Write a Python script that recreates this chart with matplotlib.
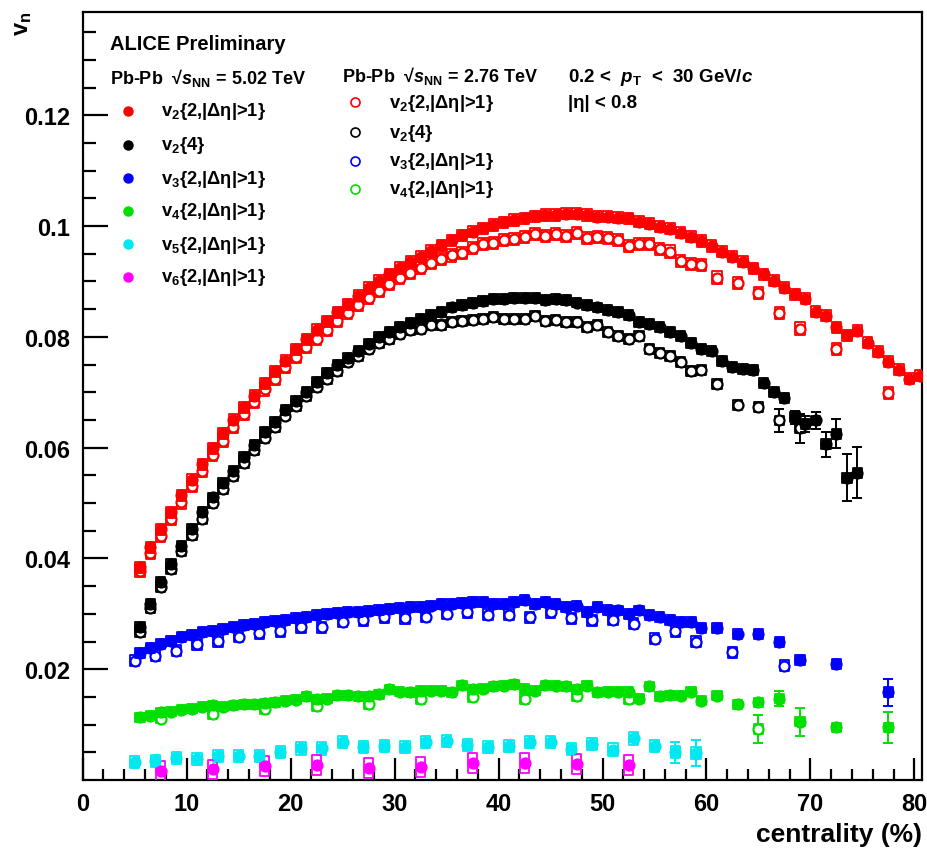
import numpy as np
import matplotlib
matplotlib.use('Agg')
import matplotlib.pyplot as plt
from matplotlib.patches import Rectangle
from matplotlib.collections import PatchCollection
from matplotlib.lines import Line2D

plt.rcParams['font.family'] = ['Liberation Sans', 'DejaVu Sans']
plt.rcParams['font.weight'] = 'bold'
plt.rcParams['mathtext.fontset'] = 'custom'
plt.rcParams['mathtext.rm'] = 'Liberation Sans:bold'
plt.rcParams['mathtext.it'] = 'Liberation Sans:italic:bold'
plt.rcParams['mathtext.bf'] = 'Liberation Sans:bold'

# centrality bin centres (%)
cent_1pc_80 = np.arange(5.5, 81.0, 1.0)      # 5-81 %, 1 % bins
cent_1pc_75 = np.arange(5.5, 75.0, 1.0)      # 5-75 %, 1 % bins
cent_1pc_60 = np.arange(5.5, 60.0, 1.0)      # 5-60 %, 1 % bins
cent_tail_502 = [61.0, 63.0, 65.0, 67.0, 69.0, 72.5, 77.5]
cent_tail_276_v24 = [61.0, 63.0, 65.0, 67.0, 69.0]
cent_2pc = np.arange(5.0, 60.0, 2.0)
cent_5pc = np.arange(7.5, 55.0, 5.0)

# Pb-Pb 5.02 TeV
v22_502 = [0.0384, 0.0420, 0.0453, 0.0483, 0.0514, 0.0542, 0.0570, 0.0599, 0.0626, 0.0650,
           0.0673, 0.0694, 0.0716, 0.0738, 0.0757, 0.0778, 0.0796, 0.0813, 0.0828, 0.0844,
           0.0859, 0.0874, 0.0889, 0.0901, 0.0913, 0.0925, 0.0936, 0.0945, 0.0955, 0.0965,
           0.0974, 0.0983, 0.0990, 0.0996, 0.1002, 0.1007, 0.1011, 0.1014, 0.1018, 0.1020,
           0.1020, 0.1022, 0.1022, 0.1020, 0.1017, 0.1017, 0.1015, 0.1014, 0.1008, 0.1004,
           0.0999, 0.0995, 0.0988, 0.0981, 0.0973, 0.0964, 0.0954, 0.0945, 0.0936, 0.0924,
           0.0913, 0.0901, 0.0889, 0.0877, 0.0869, 0.0845, 0.0838, 0.0817, 0.0803, 0.0811,
           0.0789, 0.0773, 0.0755, 0.0741, 0.0724, 0.0730]
v24_502 = [0.0276, 0.0318, 0.0357, 0.0390, 0.0423, 0.0453, 0.0483, 0.0510, 0.0536, 0.0558,
           0.0584, 0.0605, 0.0628, 0.0647, 0.0668, 0.0685, 0.0701, 0.0718, 0.0735, 0.0750,
           0.0761, 0.0775, 0.0788, 0.0799, 0.0808, 0.0817, 0.0825, 0.0832, 0.0839, 0.0845,
           0.0853, 0.0857, 0.0861, 0.0865, 0.0869, 0.0869, 0.0871, 0.0871, 0.0870, 0.0867,
           0.0868, 0.0867, 0.0862, 0.0857, 0.0853, 0.0849, 0.0845, 0.0839, 0.0826, 0.0823,
           0.0817, 0.0808, 0.0802, 0.0789, 0.0778, 0.0775, 0.0757, 0.0745, 0.0742, 0.0741,
           0.0717, 0.0701, 0.0689, 0.0655, 0.0643, 0.0649, 0.0606, 0.0625, 0.0546, 0.0555]
v32_502 = [0.0230, 0.0238, 0.0245, 0.0251, 0.0258, 0.0262, 0.0267, 0.0269, 0.0273, 0.0277,
           0.0280, 0.0282, 0.0285, 0.0287, 0.0289, 0.0292, 0.0295, 0.0297, 0.0299, 0.0301,
           0.0303, 0.0304, 0.0305, 0.0307, 0.0309, 0.0310, 0.0312, 0.0313, 0.0315, 0.0318,
           0.0318, 0.0319, 0.0321, 0.0321, 0.0318, 0.0318, 0.0321, 0.0325, 0.0318, 0.0321,
           0.0318, 0.0312, 0.0315, 0.0303, 0.0312, 0.0307, 0.0306, 0.0300, 0.0306, 0.0298,
           0.0294, 0.0288, 0.0285, 0.0285, 0.0274,
           0.0274, 0.0264, 0.0264, 0.0249, 0.0217, 0.0209, 0.0158]
v42_502 = [0.0113, 0.0116, 0.0122, 0.0123, 0.0127, 0.0129, 0.0132, 0.0135, 0.0132, 0.0135,
           0.0137, 0.0137, 0.0139, 0.0140, 0.0143, 0.0145, 0.0151, 0.0146, 0.0147, 0.0153,
           0.0153, 0.0151, 0.0151, 0.0155, 0.0164, 0.0159, 0.0158, 0.0161, 0.0161, 0.0161,
           0.0158, 0.0171, 0.0164, 0.0165, 0.0169, 0.0170, 0.0173, 0.0165, 0.0161, 0.0171,
           0.0170, 0.0169, 0.0164, 0.0170, 0.0158, 0.0159, 0.0159, 0.0159, 0.0147, 0.0169,
           0.0151, 0.0153, 0.0152, 0.0159, 0.0143,
           0.0152, 0.0137, 0.0140, 0.0147, 0.0105, 0.0095, 0.0095]
v52_502 = [0.0033, 0.0035, 0.0039, 0.0038, 0.0044, 0.0044, 0.0044, 0.0051, 0.0057, 0.0057,
           0.0068, 0.0059, 0.0061, 0.0059, 0.0068, 0.0071, 0.0063, 0.0059, 0.0062, 0.0068,
           0.0068, 0.0056, 0.0065, 0.0055, 0.0075, 0.0062, 0.0050, 0.0049]
v62_502 = [0.0017, 0.0019, 0.0026, 0.0027, 0.0021, 0.0023, 0.0031, 0.0031, 0.0029, 0.0027]

# Pb-Pb 2.76 TeV
v22_276 = [0.0378, 0.0410, 0.0441, 0.0471, 0.0501, 0.0531, 0.0558, 0.0587, 0.0612, 0.0638,
           0.0661, 0.0682, 0.0705, 0.0724, 0.0745, 0.0763, 0.0781, 0.0797, 0.0813, 0.0829,
           0.0843, 0.0857, 0.0871, 0.0883, 0.0895, 0.0906, 0.0915, 0.0925, 0.0933, 0.0940,
           0.0947, 0.0952, 0.0960, 0.0967, 0.0970, 0.0975, 0.0977, 0.0980, 0.0986, 0.0982,
           0.0986, 0.0982, 0.0987, 0.0978, 0.0980, 0.0978, 0.0975, 0.0964, 0.0967, 0.0967,
           0.0958, 0.0954, 0.0937, 0.0931, 0.0930,
           0.0907, 0.0897, 0.0879, 0.0843, 0.0815, 0.0778, 0.0699]
v24_276 = [0.0267, 0.0310, 0.0348, 0.0381, 0.0414, 0.0442, 0.0471, 0.0500, 0.0525, 0.0549,
           0.0573, 0.0596, 0.0617, 0.0637, 0.0658, 0.0676, 0.0694, 0.0709, 0.0724, 0.0739,
           0.0754, 0.0766, 0.0778, 0.0789, 0.0797, 0.0805, 0.0813, 0.0815, 0.0821, 0.0822,
           0.0826, 0.0829, 0.0831, 0.0833, 0.0835, 0.0833, 0.0833, 0.0833, 0.0838, 0.0829,
           0.0831, 0.0826, 0.0826, 0.0817, 0.0821, 0.0808, 0.0802, 0.0796, 0.0802, 0.0778,
           0.0771, 0.0766, 0.0755, 0.0739, 0.0741,
           0.0715, 0.0677, 0.0673, 0.0649, 0.0635]
cent_v32_276 = [62.5, 67.5]
v32_276 = [0.0215, 0.0224, 0.0233, 0.0245, 0.0251, 0.0259, 0.0265, 0.0269, 0.0276, 0.0276,
           0.0286, 0.0288, 0.0294, 0.0292, 0.0295, 0.0300, 0.0303, 0.0298, 0.0298, 0.0294,
           0.0303, 0.0292, 0.0288, 0.0289, 0.0282, 0.0255, 0.0269, 0.0250,
           0.0231, 0.0206]
cent_v42_276 = [65.0]
v42_276 = [0.0111, 0.0119, 0.0128, 0.0134, 0.0137, 0.0147, 0.0149, 0.0146, 0.0152, 0.0147,
           0.0092]

# statistical error bars that stick out of the markers
stat_v24_502_cent = [68.5, 69.5, 70.5, 71.5, 72.5, 73.5, 74.5]
stat_v24_502 = [0.0012, 0.0015, 0.0016, 0.0023, 0.0026, 0.0042, 0.0046]
stat_v24_276_cent = [67.0, 69.0]
stat_v24_276 = [0.0020, 0.0026]
stat_v32_502_cent = [77.5]
stat_v32_502 = [0.0025]
stat_v42_502_cent = [67.0, 69.0, 77.5]
stat_v42_502 = [0.0014, 0.0025, 0.0028]
stat_v42_276_cent = [65.0]
stat_v42_276 = [0.0025]
stat_v52_502_cent = [57.0, 59.0]
stat_v52_502 = [0.0019, 0.0023]

RED, BLACK, BLUE = '#ff0000', '#000000', '#0000ff'
GREEN, CYAN, MAGENTA = '#00e000', '#00e8f0', '#ff00ff'

W, H = 927, 854
fig = plt.figure(figsize=(W / 100, H / 100), dpi=100)
ax = fig.add_axes([82.7 / W, 1 - 781 / H, (921.7 - 82.7) / W, (781 - 12.7) / H])


def draw_series(cent, vals, color, filled, sys, stat_cent=None, stat=None, z=3):
    cent = np.asarray(cent, dtype=float)
    vals = np.asarray(vals, dtype=float)
    # systematic boxes
    boxes = [Rectangle((c - 0.45, v - sys), 0.9, 2 * sys) for c, v in zip(cent, vals)]
    ax.add_collection(PatchCollection(boxes, facecolor='none', edgecolor=color,
                                      linewidth=1.3, zorder=z))
    if stat_cent:
        idx = [int(np.argmin(np.abs(cent - c))) for c in stat_cent]
        ax.errorbar(cent[idx], vals[idx], yerr=stat, fmt='none', ecolor=color,
                    elinewidth=1.4, capsize=3.5, capthick=1.4, zorder=z)
    ax.plot(cent, vals, ls='none', marker='o', ms=7.2,
            mfc=color if filled else 'white', mec=color, mew=1.6, zorder=z + 0.5)


# 2.76 TeV (open) below, 5.02 TeV (full) on top
draw_series(np.concatenate([cent_1pc_60, cent_tail_502]), v22_276, RED, False, 0.0011)
draw_series(np.concatenate([cent_1pc_60, cent_tail_276_v24]), v24_276, BLACK, False, 0.0009,
            stat_v24_276_cent, stat_v24_276)
draw_series(np.concatenate([cent_2pc, cent_v32_276]), v32_276, BLUE, False, 0.0010)
draw_series(np.concatenate([cent_5pc, cent_v42_276]), v42_276, GREEN, False, 0.0009,
            stat_v42_276_cent, stat_v42_276)

draw_series(cent_1pc_80, v22_502, RED, True, 0.0010, z=5)
draw_series(cent_1pc_75, v24_502, BLACK, True, 0.0009, stat_v24_502_cent, stat_v24_502, z=5)
draw_series(np.concatenate([cent_1pc_60, cent_tail_502]), v32_502, BLUE, True, 0.0009,
            stat_v32_502_cent, stat_v32_502, z=5)
draw_series(np.concatenate([cent_1pc_60, cent_tail_502]), v42_502, GREEN, True, 0.0008,
            stat_v42_502_cent, stat_v42_502, z=5)
draw_series(cent_2pc, v52_502, CYAN, True, 0.0011, stat_v52_502_cent, stat_v52_502, z=5)
draw_series(cent_5pc, v62_502, MAGENTA, True, 0.0018, z=5)

ax.set_xlim(0, 80.7)
ax.set_ylim(0, 0.1387)
ax.set_xticks(np.arange(0, 81, 10))
ax.set_xticks(np.arange(0, 81, 2), minor=True)
ax.set_yticks([0.02, 0.04, 0.06, 0.08, 0.10, 0.12])
ax.set_yticklabels(['0.02', '0.04', '0.06', '0.08', '0.1', '0.12'])
ax.set_yticks(np.arange(0.005, 0.1387, 0.005), minor=True)
ax.tick_params(axis='both', which='both', direction='in', width=1.6, labelsize=17,
               top=False, right=False)
ax.tick_params(axis='x', which='major', length=16, pad=9)
ax.tick_params(axis='x', which='minor', length=8)
ax.tick_params(axis='y', which='major', length=18, pad=9)
ax.tick_params(axis='y', which='minor', length=9)
for lab in ax.get_xticklabels() + ax.get_yticklabels():
    lab.set_fontweight('bold')
for sp in ax.spines.values():
    sp.set_linewidth(1.6)


def fx(px):
    return px / W


def fy(py):
    return 1 - py / H


fig.text(fx(922), fy(835), 'centrality (%)', fontsize=19, ha='right', va='center')
fig.text(fx(22), fy(12), 'v$_{\\mathrm{n}}$', fontsize=17, rotation=90, ha='center', va='top')

# labels and legends
fig.text(fx(110), fy(45), 'ALICE Preliminary', fontsize=14.5, va='center')
fig.text(fx(110), fy(78), 'Pb-Pb  \u221a$s_{\\mathrm{NN}}$ = 5.02 TeV', fontsize=13, va='center')
fig.text(fx(342), fy(76), 'Pb-Pb  \u221a$s_{\\mathrm{NN}}$ = 2.76 TeV', fontsize=13, va='center')
fig.text(fx(568), fy(77), '0.2 <  $p_{\\mathrm{T}}$  <  30 GeV/$c$', fontsize=13.5, va='center')
fig.text(fx(568), fy(104), '|\u03b7| < 0.8', fontsize=13.5, va='center')

labels_502 = ['v$_{2}${2,|\u0394\u03b7|>1}', 'v$_{2}${4}', 'v$_{3}${2,|\u0394\u03b7|>1}',
              'v$_{4}${2,|\u0394\u03b7|>1}', 'v$_{5}${2,|\u0394\u03b7|>1}',
              'v$_{6}${2,|\u0394\u03b7|>1}']
colors_502 = [RED, BLACK, BLUE, GREEN, CYAN, MAGENTA]
rows_502 = [112, 146, 179, 212, 245, 278]
for lab, col, row in zip(labels_502, colors_502, rows_502):
    fig.add_artist(Line2D([fx(128)], [fy(row)], ls='none', marker='o', ms=6.5,
                          mfc=col, mec=col))
    fig.text(fx(161), fy(row), lab, fontsize=13.2, va='center')

labels_276 = ['v$_{2}${2,|\u0394\u03b7|>1}', 'v$_{2}${4}', 'v$_{3}${2,|\u0394\u03b7|>1}',
              'v$_{4}${2,|\u0394\u03b7|>1}']
colors_276 = [RED, BLACK, BLUE, GREEN]
rows_276 = [103, 133, 162, 190]
for lab, col, row in zip(labels_276, colors_276, rows_276):
    fig.add_artist(Line2D([fx(355)], [fy(row)], ls='none', marker='o', ms=6.5,
                          mfc='none', mec=col, mew=1.2))
    fig.text(fx(389), fy(row), lab, fontsize=13.2, va='center')

fig.savefig('out.png', dpi=100)
